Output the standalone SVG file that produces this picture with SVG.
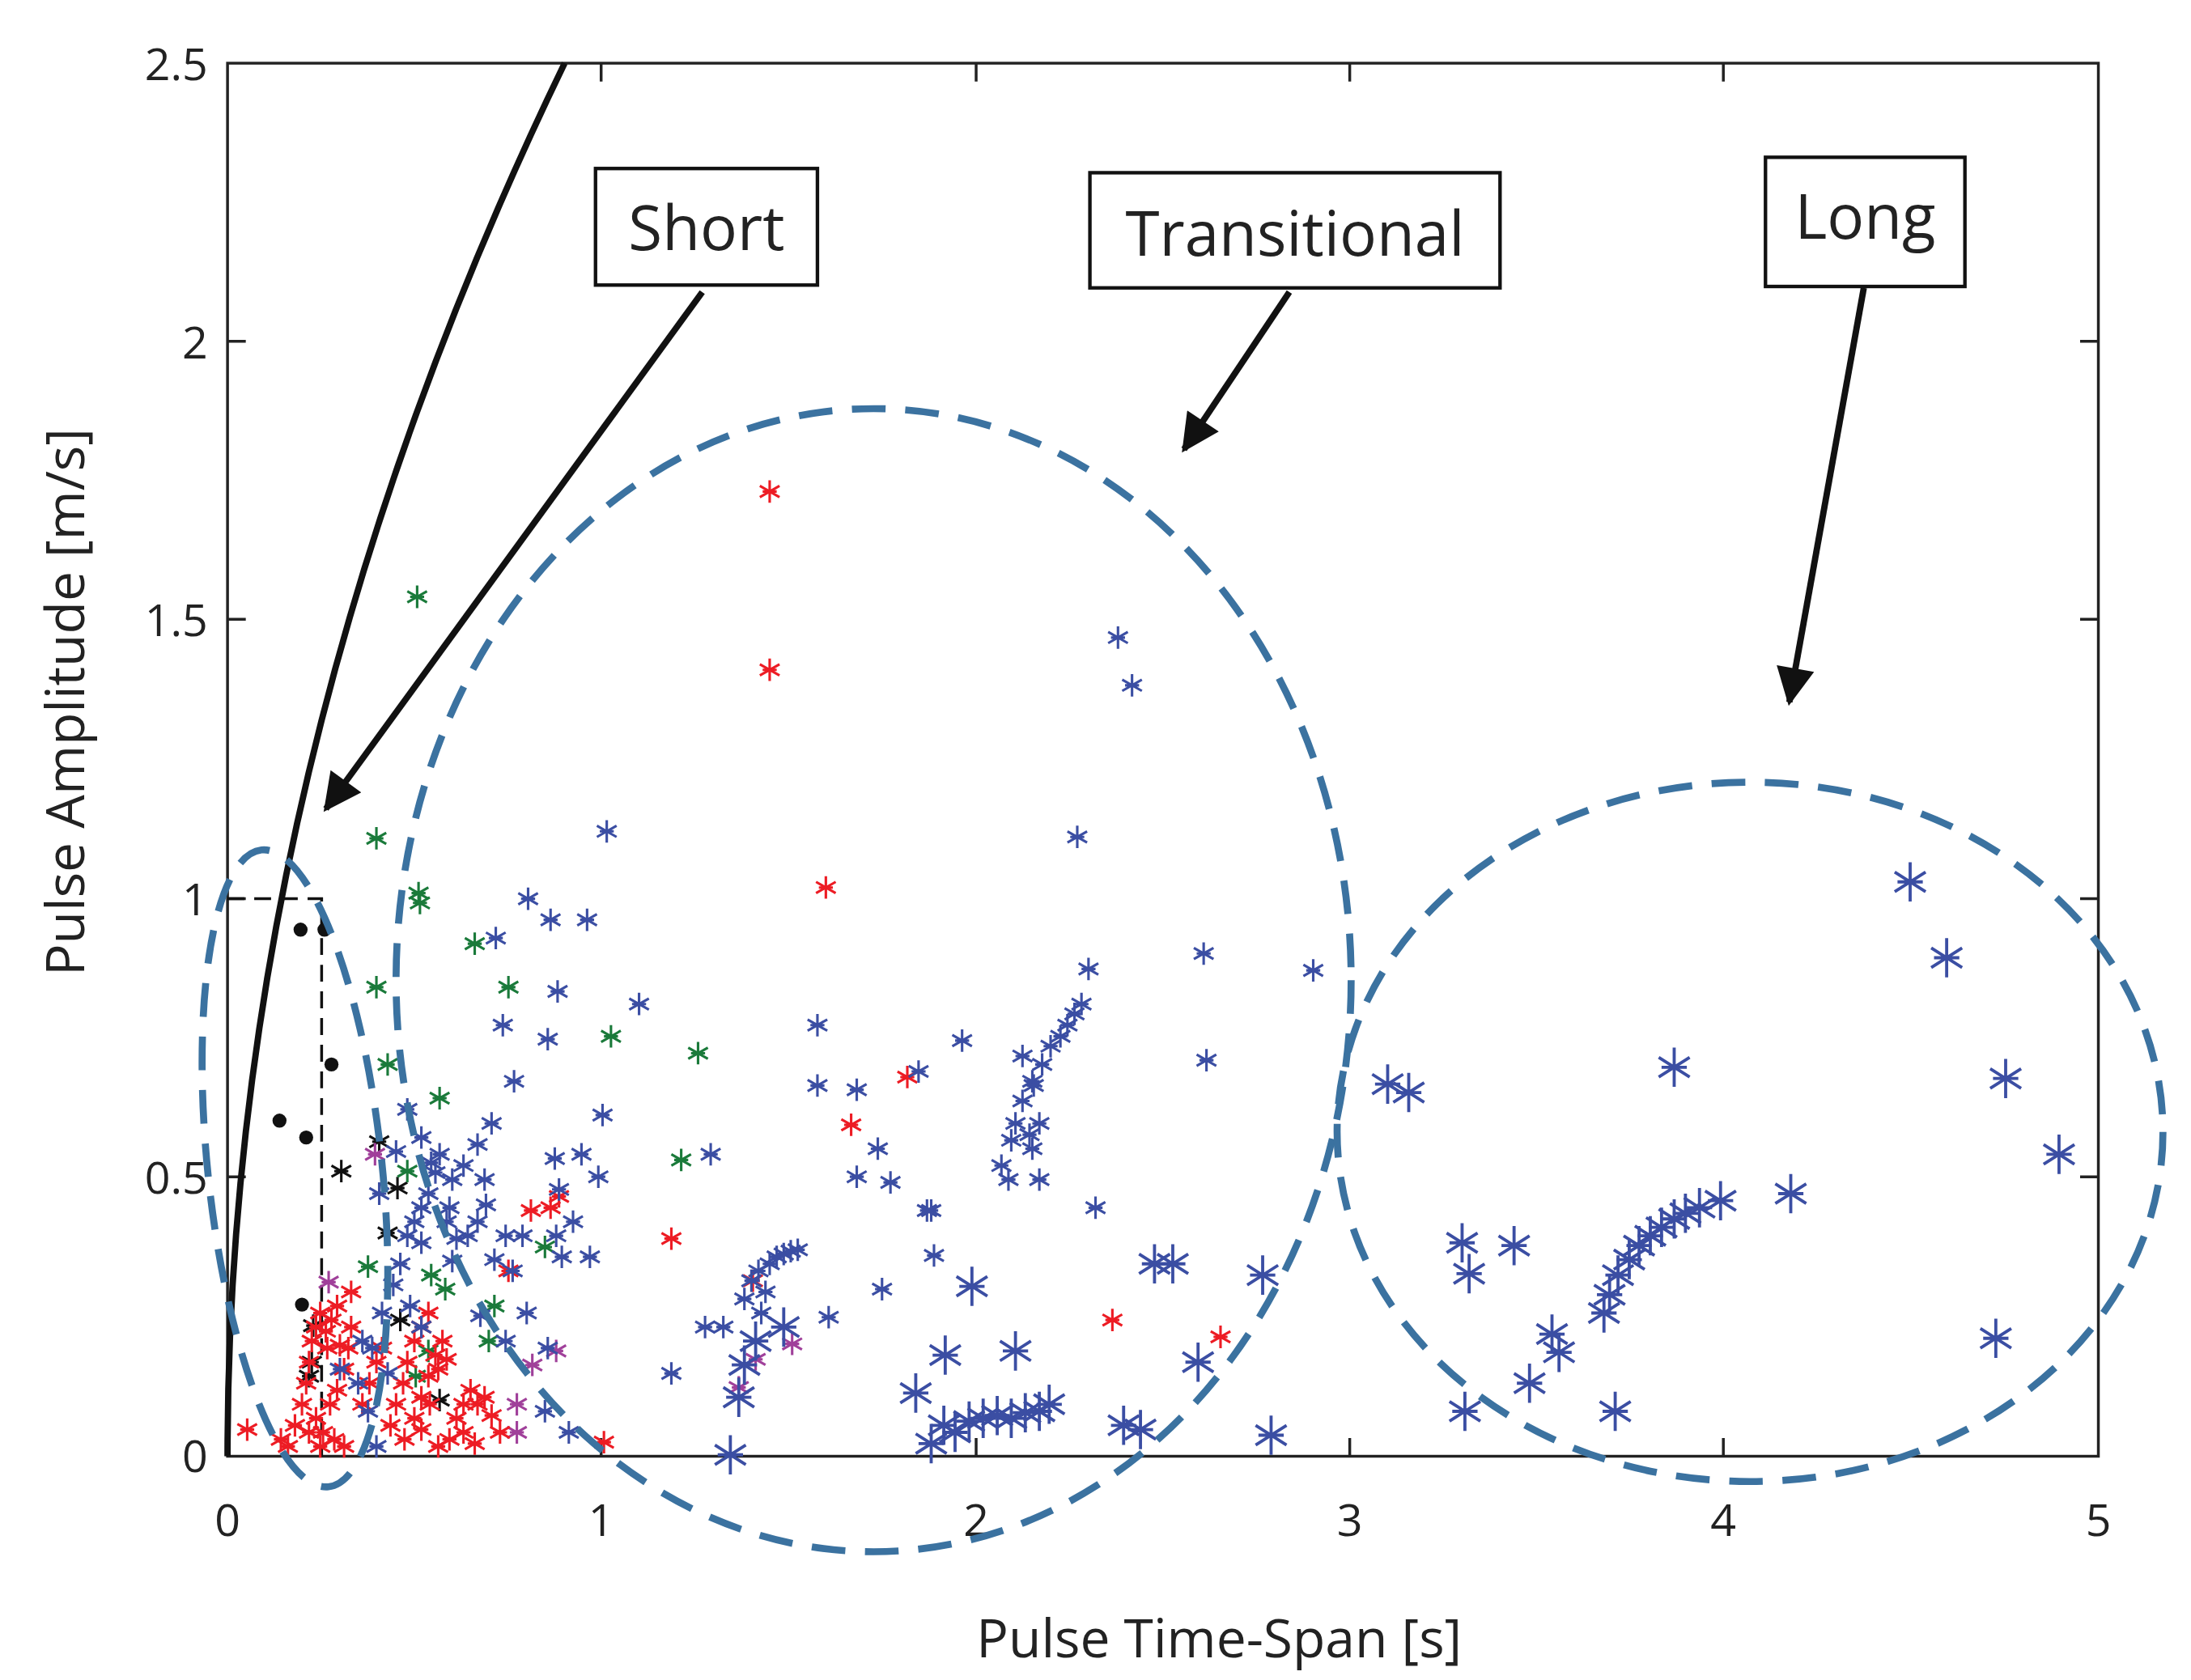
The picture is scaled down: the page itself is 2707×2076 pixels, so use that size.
<svg xmlns="http://www.w3.org/2000/svg" xmlns:xlink="http://www.w3.org/1999/xlink" width="2707" height="2076" viewBox="0 0 2707 2076">
<style>
.t{font-family:"Open Sans","Liberation Sans",sans-serif;fill:#222}
.tk{font-size:32px}
.ax{stroke:#222;fill:none;stroke-width:2}
.el{fill:none;stroke:#3b72a0;stroke-width:5;stroke-dasharray:24 14}
.bx{fill:#fff;stroke:#111;stroke-width:2.5}
.ar{stroke:#111;stroke-width:4.5;fill:none}
.r{color:#ed1c24}.g{color:#1a7a3a}.b{color:#3b4ea3}.m{color:#a0409a}.k{color:#111}
</style>
<defs>
<g id="a" stroke="currentColor" stroke-width="1.8"><path d="M0,-8V8M-7,-4L7,4M-7,4L7,-4M-5,0H5"/></g>
<g id="A" stroke="currentColor" stroke-width="2.2"><path d="M0,-14V14M-11,-7L11,7M-11,7L11,-7M-9,0H9"/></g>
<circle id="d" r="5" fill="#111"/>
<marker id="h" viewBox="0 0 10 10" refX="9" refY="5" markerWidth="7" markerHeight="6" markerUnits="strokeWidth" orient="auto"><path d="M0,0L10,5L0,10z" fill="#111"/></marker>
</defs>
<rect width="2707" height="2076" fill="#fff"/>
<g transform="scale(1.7353)">
<g id="axes">
<rect x="162" y="45" width="1332" height="992" class="ax"/>
<path class="ax" d="M428,1037v-13M695,1037v-13M961,1037v-13M1227,1037v-13M428,45v13M695,45v13M961,45v13M1227,45v13M162,838h13M162,640h13M162,441h13M162,243h13M1494,838h-13M1494,640h-13M1494,441h-13M1494,243h-13"/>
<g class="t tk" text-anchor="end">
<text x="148" y="1048">0</text><text x="148" y="850">0.5</text><text x="148" y="652">1</text><text x="148" y="453">1.5</text><text x="148" y="255">2</text><text x="148" y="57">2.5</text>
</g>
<g class="t tk" text-anchor="middle">
<text x="162" y="1094">0</text><text x="428" y="1094">1</text><text x="695" y="1094">2</text><text x="961" y="1094">3</text><text x="1227" y="1094">4</text><text x="1494" y="1094">5</text>
</g>
<text class="t" x="868" y="1180" font-size="38" text-anchor="middle">Pulse Time-Span [s]</text>
<text class="t" x="0" y="0" font-size="38" text-anchor="middle" transform="translate(60,500) rotate(-90)">Pulse Amplitude [m/s]</text>
</g>
<g id="curve">
<path fill="none" stroke="#111" stroke-width="4.5" d="M162,1037 Q162,541 402,45"/>
<path d="M162,640H229V1037" fill="none" stroke="#111" stroke-width="2" stroke-dasharray="12 7"/>
</g>
<g id="points">
<g class="k"><use href="#d" x="214" y="662"/><use href="#d" x="231" y="662"/><use href="#d" x="199" y="798"/><use href="#d" x="218" y="810"/><use href="#d" x="236" y="758"/><use href="#d" x="215" y="929"/>
<use href="#a" x="270" y="813"/><use href="#a" x="243" y="834"/><use href="#a" x="283" y="846"/><use href="#a" x="276" y="878"/><use href="#a" x="285" y="940"/><use href="#a" x="223" y="944"/><use href="#a" x="222" y="970"/><use href="#a" x="220" y="980"/><use href="#a" x="313" y="997"/></g>
<g class="g"><use href="#a" x="297" y="425"/><use href="#a" x="268" y="597"/><use href="#a" x="298" y="636"/><use href="#a" x="299" y="643"/><use href="#a" x="338" y="672"/><use href="#a" x="362" y="703"/><use href="#a" x="268" y="703"/><use href="#a" x="276" y="758"/><use href="#a" x="313" y="782"/><use href="#a" x="435" y="738"/><use href="#a" x="497" y="750"/><use href="#a" x="485" y="826"/><use href="#a" x="388" y="888"/><use href="#a" x="262" y="902"/><use href="#a" x="290" y="834"/><use href="#a" x="307" y="908"/><use href="#a" x="317" y="918"/><use href="#a" x="352" y="930"/><use href="#a" x="348" y="955"/><use href="#a" x="305" y="962"/><use href="#a" x="296" y="980"/></g>
<g class="m"><use href="#a" x="267" y="822"/><use href="#a" x="234" y="913"/><use href="#a" x="379" y="972"/><use href="#a" x="396" y="962"/><use href="#a" x="368" y="1000"/><use href="#a" x="368" y="1020"/><use href="#a" x="538" y="968"/><use href="#a" x="564" y="957"/><use href="#a" x="526" y="988"/></g>
<g class="r"><use href="#a" x="548" y="350"/><use href="#a" x="548" y="477"/><use href="#a" x="588" y="632"/><use href="#a" x="646" y="767"/><use href="#a" x="606" y="801"/><use href="#a" x="478" y="882"/><use href="#a" x="378" y="862"/><use href="#a" x="392" y="860"/><use href="#a" x="398" y="852"/><use href="#a" x="362" y="905"/><use href="#a" x="536" y="912"/><use href="#a" x="792" y="940"/><use href="#a" x="869" y="952"/><use href="#a" x="430" y="1027"/><use href="#a" x="176" y="1018"/><use href="#a" x="205" y="1030"/>
<use href="#a" x="215" y="1000"/><use href="#a" x="218" y="985"/><use href="#a" x="220" y="970"/><use href="#a" x="222" y="955"/><use href="#a" x="225" y="945"/><use href="#a" x="228" y="935"/><use href="#a" x="232" y="948"/><use href="#a" x="236" y="940"/><use href="#a" x="240" y="930"/><use href="#a" x="225" y="1010"/><use href="#a" x="230" y="1020"/><use href="#a" x="235" y="1000"/><use href="#a" x="240" y="990"/><use href="#a" x="245" y="975"/><use href="#a" x="248" y="960"/><use href="#a" x="250" y="945"/><use href="#a" x="238" y="1025"/><use href="#a" x="245" y="1030"/><use href="#a" x="228" y="1030"/><use href="#a" x="220" y="1020"/><use href="#a" x="258" y="1000"/><use href="#a" x="263" y="985"/><use href="#a" x="268" y="970"/><use href="#a" x="272" y="960"/><use href="#a" x="278" y="1015"/><use href="#a" x="282" y="1000"/><use href="#a" x="287" y="985"/><use href="#a" x="290" y="970"/><use href="#a" x="295" y="955"/><use href="#a" x="300" y="945"/><use href="#a" x="305" y="935"/><use href="#a" x="288" y="1025"/><use href="#a" x="295" y="1010"/><use href="#a" x="300" y="995"/><use href="#a" x="305" y="980"/><use href="#a" x="310" y="965"/><use href="#a" x="315" y="955"/><use href="#a" x="320" y="1025"/><use href="#a" x="325" y="1010"/><use href="#a" x="330" y="1000"/><use href="#a" x="335" y="990"/><use href="#a" x="340" y="1000"/><use href="#a" x="345" y="995"/><use href="#a" x="350" y="1008"/><use href="#a" x="330" y="1020"/><use href="#a" x="338" y="1028"/><use href="#a" x="312" y="1030"/><use href="#a" x="356" y="1020"/><use href="#a" x="300" y="1018"/><use href="#a" x="306" y="1000"/><use href="#a" x="312" y="975"/><use href="#a" x="318" y="968"/><use href="#a" x="200" y="1025"/><use href="#a" x="210" y="1015"/><use href="#a" x="233" y="960"/><use href="#a" x="242" y="958"/><use href="#a" x="250" y="920"/></g>
<g class="b"><use href="#a" x="432" y="592"/><use href="#a" x="767" y="596"/><use href="#a" x="796" y="454"/><use href="#a" x="806" y="488"/><use href="#a" x="376" y="640"/><use href="#a" x="353" y="668"/><use href="#a" x="392" y="655"/><use href="#a" x="418" y="655"/><use href="#a" x="397" y="706"/><use href="#a" x="358" y="730"/><use href="#a" x="455" y="715"/><use href="#a" x="429" y="794"/><use href="#a" x="414" y="822"/><use href="#a" x="398" y="847"/><use href="#a" x="582" y="730"/><use href="#a" x="582" y="773"/><use href="#a" x="610" y="776"/><use href="#a" x="625" y="818"/><use href="#a" x="610" y="838"/><use href="#a" x="685" y="741"/><use href="#a" x="654" y="763"/><use href="#a" x="663" y="862"/><use href="#a" x="728" y="752"/><use href="#a" x="857" y="679"/><use href="#a" x="859" y="755"/><use href="#a" x="935" y="691"/><use href="#a" x="780" y="860"/><use href="#a" x="506" y="822"/>
<use href="#a" x="265" y="960"/><use href="#a" x="272" y="935"/><use href="#a" x="280" y="915"/><use href="#a" x="285" y="900"/><use href="#a" x="290" y="880"/><use href="#a" x="295" y="870"/><use href="#a" x="300" y="860"/><use href="#a" x="305" y="850"/><use href="#a" x="310" y="835"/><use href="#a" x="300" y="810"/><use href="#a" x="307" y="828"/><use href="#a" x="290" y="790"/><use href="#a" x="313" y="822"/><use href="#a" x="318" y="870"/><use href="#a" x="325" y="882"/><use href="#a" x="333" y="880"/><use href="#a" x="340" y="870"/><use href="#a" x="346" y="858"/><use href="#a" x="322" y="840"/><use href="#a" x="330" y="830"/><use href="#a" x="340" y="815"/><use href="#a" x="350" y="800"/><use href="#a" x="345" y="840"/><use href="#a" x="360" y="880"/><use href="#a" x="365" y="905"/><use href="#a" x="372" y="880"/><use href="#a" x="352" y="897"/><use href="#a" x="322" y="898"/><use href="#a" x="300" y="885"/><use href="#a" x="255" y="985"/><use href="#a" x="262" y="1005"/><use href="#a" x="268" y="1030"/><use href="#a" x="276" y="978"/><use href="#a" x="258" y="955"/><use href="#a" x="242" y="975"/><use href="#a" x="270" y="850"/><use href="#a" x="282" y="820"/><use href="#a" x="292" y="930"/><use href="#a" x="300" y="945"/><use href="#a" x="342" y="937"/><use href="#a" x="360" y="955"/><use href="#a" x="388" y="1005"/><use href="#a" x="405" y="1020"/><use href="#a" x="390" y="960"/><use href="#a" x="375" y="935"/><use href="#a" x="396" y="880"/><use href="#a" x="408" y="870"/><use href="#a" x="400" y="895"/><use href="#a" x="420" y="895"/><use href="#a" x="395" y="825"/><use href="#a" x="426" y="838"/><use href="#a" x="390" y="740"/><use href="#a" x="366" y="770"/><use href="#a" x="320" y="860"/>
<use href="#a" x="530" y="925"/><use href="#a" x="535" y="912"/><use href="#a" x="540" y="905"/><use href="#a" x="548" y="900"/><use href="#a" x="553" y="895"/><use href="#a" x="558" y="893"/><use href="#a" x="563" y="891"/><use href="#a" x="568" y="890"/><use href="#a" x="545" y="920"/><use href="#a" x="542" y="935"/><use href="#a" x="502" y="945"/><use href="#a" x="515" y="945"/><use href="#a" x="478" y="978"/><use href="#a" x="590" y="938"/><use href="#a" x="628" y="918"/><use href="#a" x="665" y="894"/><use href="#a" x="660" y="862"/><use href="#a" x="634" y="842"/>
<use href="#a" x="718" y="840"/><use href="#a" x="720" y="812"/><use href="#a" x="723" y="800"/><use href="#a" x="728" y="784"/><use href="#a" x="735" y="770"/><use href="#a" x="742" y="758"/><use href="#a" x="748" y="745"/><use href="#a" x="755" y="738"/><use href="#a" x="760" y="730"/><use href="#a" x="765" y="722"/><use href="#a" x="770" y="715"/><use href="#a" x="775" y="690"/><use href="#a" x="736" y="773"/><use href="#a" x="735" y="818"/><use href="#a" x="740" y="800"/><use href="#a" x="733" y="808"/><use href="#a" x="740" y="840"/><use href="#a" x="713" y="830"/>
<use href="#A" x="538" y="955"/><use href="#A" x="530" y="972"/><use href="#A" x="526" y="995"/><use href="#A" x="520" y="1036"/><use href="#A" x="558" y="945"/>
<use href="#A" x="663" y="1028"/><use href="#A" x="672" y="1015"/><use href="#A" x="680" y="1020"/><use href="#A" x="690" y="1012"/><use href="#A" x="700" y="1010"/><use href="#A" x="710" y="1008"/><use href="#A" x="720" y="1010"/><use href="#A" x="730" y="1006"/><use href="#A" x="740" y="1005"/><use href="#A" x="747" y="1000"/><use href="#A" x="652" y="992"/><use href="#A" x="673" y="965"/><use href="#A" x="692" y="916"/><use href="#A" x="723" y="962"/><use href="#A" x="800" y="1015"/><use href="#A" x="812" y="1018"/><use href="#A" x="822" y="900"/><use href="#A" x="835" y="900"/><use href="#A" x="853" y="970"/><use href="#A" x="905" y="1022"/><use href="#A" x="899" y="908"/>
<use href="#A" x="988" y="772"/><use href="#A" x="1003" y="778"/><use href="#A" x="1041" y="885"/><use href="#A" x="1046" y="907"/><use href="#A" x="1078" y="887"/><use href="#A" x="1043" y="1005"/><use href="#A" x="1089" y="985"/><use href="#A" x="1105" y="950"/><use href="#A" x="1110" y="963"/><use href="#A" x="1150" y="1005"/><use href="#A" x="1192" y="760"/><use href="#A" x="1360" y="628"/><use href="#A" x="1386" y="682"/><use href="#A" x="1428" y="768"/><use href="#A" x="1466" y="822"/><use href="#A" x="1421" y="953"/><use href="#A" x="1275" y="850"/>
<use href="#A" x="1142" y="935"/><use href="#A" x="1146" y="922"/><use href="#A" x="1152" y="908"/><use href="#A" x="1160" y="897"/><use href="#A" x="1167" y="887"/><use href="#A" x="1175" y="880"/><use href="#A" x="1183" y="874"/><use href="#A" x="1192" y="868"/><use href="#A" x="1200" y="864"/><use href="#A" x="1210" y="860"/><use href="#A" x="1225" y="855"/></g>
</g>
<g id="regions">
<ellipse id="short-region" class="el" cx="210" cy="832" rx="62" ry="228" transform="rotate(-6 210 832)"/>
<ellipse id="transitional-region" class="el" cx="622" cy="698" rx="340" ry="407"/>
<ellipse id="long-region" class="el" cx="1246" cy="806" rx="294" ry="249"/>
</g>
<g id="connectors">
<line class="ar" x1="500" y1="208" x2="232" y2="576" marker-end="url(#h)"/>
<line class="ar" x1="918" y1="208" x2="843" y2="320" marker-end="url(#h)"/>
<line class="ar" x1="1327" y1="205" x2="1274" y2="500" marker-end="url(#h)"/>
</g>
<g id="label-short"><rect class="bx" x="424" y="120" width="158" height="83"/><text class="t" x="503" y="178" font-size="44" text-anchor="middle" fill="#111">Short</text></g>
<g id="label-transitional"><rect class="bx" x="776" y="123" width="292" height="82"/><text class="t" x="922" y="182" font-size="44" text-anchor="middle">Transitional</text></g>
<g id="label-long"><rect class="bx" x="1257" y="112" width="142" height="92"/><text class="t" x="1328" y="170" font-size="44" text-anchor="middle">Long</text></g>
</g>
</svg>
